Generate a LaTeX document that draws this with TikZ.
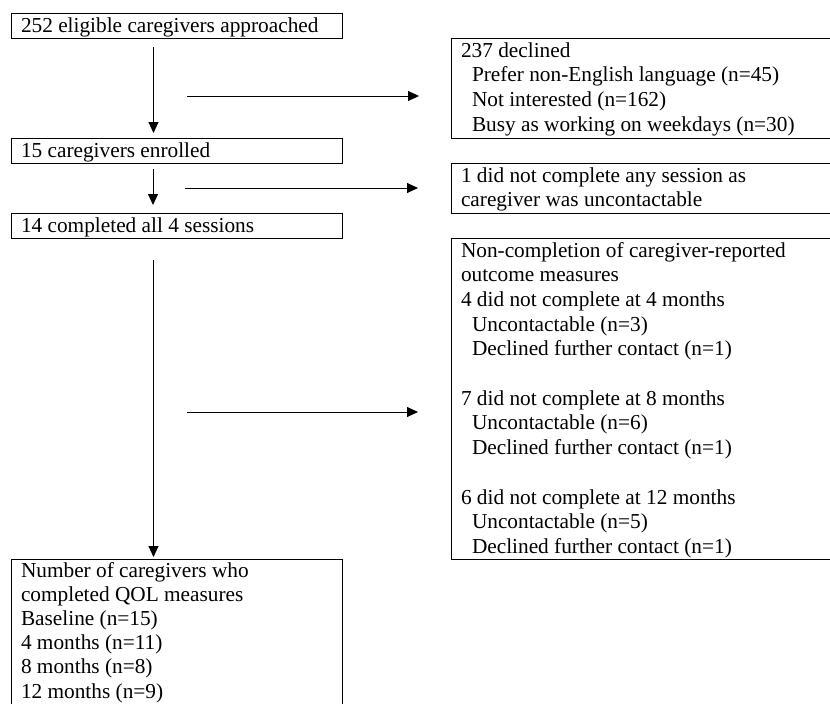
\documentclass[tikz,border=0pt]{standalone}
\usepackage{fontspec}
\setmainfont{Liberation Serif}
\usetikzlibrary{arrows.meta}
\newcommand{\tfont}{\fontsize{21.3pt}{24.7pt}\selectfont}
\newcommand{\tfontb}{\fontsize{21.3pt}{24.2pt}\selectfont}
\begin{document}
\begin{tikzpicture}[x=1pt,y=-1pt,
  box/.style={draw=black, line width=1pt, anchor=north west, inner sep=0pt, outer sep=0pt},
  txt/.style={anchor=base west, inner sep=0pt, outer sep=0pt, font=\tfont},
  arr/.style={-{Triangle[length=11pt,width=10pt]}, line width=0.9pt}]
\useasboundingbox (0,0) rectangle (830,704);
\clip (0,0) rectangle (830,704);
% left column boxes
\node[box, minimum width=331pt, minimum height=25pt] (b1) at (11,13) {};
\node[box, minimum width=331pt, minimum height=25pt] (b2) at (11,138) {};
\node[box, minimum width=331pt, minimum height=25pt] (b3) at (11,213) {};
\node[box, minimum width=331pt, minimum height=165pt] (b4) at (11,559) {};
% right column boxes
\node[box, minimum width=385pt, minimum height=100pt] (r1) at (451,38) {};
\node[box, minimum width=385pt, minimum height=50pt] (r2) at (451,163) {};
\node[box, minimum width=385pt, minimum height=321pt] (r3) at (451,238) {};
% texts
\node[txt] (t1) at (21,32) {252 eligible caregivers approached};
\node[txt] (t2) at (21,157) {15 caregivers enrolled};
\node[txt] (t3) at (21,232) {14 completed all 4 sessions};
\node[txt, font=\tfontb] (t4) at (21,577) {\vtop{\hbox{Number of caregivers who}\hbox{completed QOL measures}\hbox{Baseline (n=15)}\hbox{4 months (n=11)}\hbox{8 months (n=8)}\hbox{12 months (n=9)}}};
\node[txt] (s1) at (461,57) {\vtop{\hbox{237 declined}\hbox{\hskip11pt Prefer non-English language (n=45)}\hbox{\hskip11pt Not interested (n=162)}\hbox{\hskip11pt Busy as working on weekdays (n=30)}}};
\node[txt] (s2) at (461,182) {\vtop{\hbox{1 did not complete any session as}\hbox{caregiver was uncontactable}}};
\node[txt] (s3) at (461,257) {\vtop{\hbox{Non-completion of caregiver-reported}\hbox{outcome measures}\hbox{4 did not complete at 4 months}\hbox{\hskip11pt Uncontactable (n=3)}\hbox{\hskip11pt Declined further contact (n=1)}\hbox{}\hbox{7 did not complete at 8 months}\hbox{\hskip11pt Uncontactable (n=6)}\hbox{\hskip11pt Declined further contact (n=1)}\hbox{}\hbox{6 did not complete at 12 months}\hbox{\hskip11pt Uncontactable (n=5)}\hbox{\hskip11pt Declined further contact (n=1)}}};
% arrow start points
\coordinate (v1) at (153.5,47);
\coordinate (v2) at (153,169);
\coordinate (v3) at (153.5,260);
\coordinate (h1) at (187,96);
\coordinate (h2) at (185,188);
\coordinate (h3) at (187,412);
% connectors
\draw[arr, shorten >=5pt] (v1) -- (v1 |- b2.north);
\draw[arr, shorten >=8pt] (v2) -- (v2 |- b3.north);
\draw[arr, shorten >=2pt] (v3) -- (v3 |- b4.north);
\draw[arr, shorten >=32pt] (h1) -- (h1 -| r1.west);
\draw[arr, shorten >=33pt] (h2) -- (h2 -| r2.west);
\draw[arr, shorten >=33pt] (h3) -- (h3 -| r3.west);
\end{tikzpicture}
\end{document}
